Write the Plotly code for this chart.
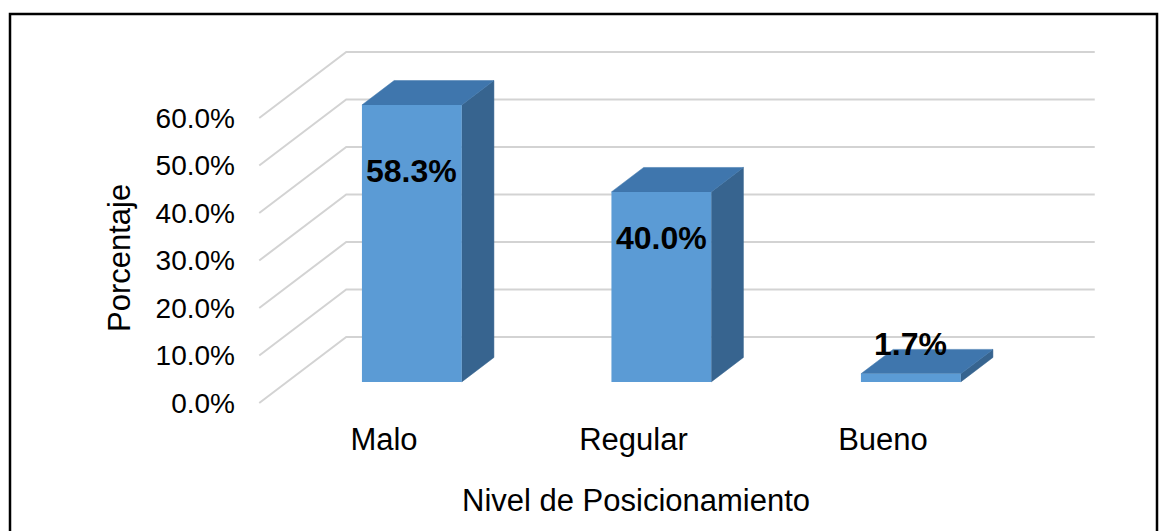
import plotly.graph_objects as go

# Data
categorias = ["Malo", "Regular", "Bueno"]
porcentajes = [58.3, 40.0, 1.7]
ticks_y = [0, 10, 20, 30, 40, 50, 60]
etiquetas_y = ["0.0%", "10.0%", "20.0%", "30.0%", "40.0%", "50.0%", "60.0%"]
etiquetas_barras = ["58.3%", "40.0%", "1.7%"]

# Page / plot-area geometry (pixels)
W, H = 1168, 531
L, R, T, B = 254, 1108, 40, 416
X0_PX, PX_PER_CAT = 384.0, 249.5      # first category on the front plane
Y0_PX, PX_PER_PCT = 403.0, 4.75       # 0 % on the front plane

x_range = [(L - X0_PX) / PX_PER_CAT, (R - X0_PX) / PX_PER_CAT]
y_range = [(Y0_PX - B) / PX_PER_PCT, (Y0_PX - T) / PX_PER_PCT]
pw, ph = R - L, B - T


def px_to_paper_x(px):
    return (px - L) / pw


def px_to_paper_y(py):
    return (B - py) / ph


# Oblique depth vector (data units) and bar placement in depth
DX = 87.0 / PX_PER_CAT
DY = 66.0 / PX_PER_PCT
T0, T1 = 0.32, 0.69
HALF = 0.2
FLOOR_L, FLOOR_R = -0.5, len(categorias) - 0.5

FONT = "Arial, 'Liberation Sans', sans-serif"
GRID = "#d3d3d3"
FRONT = "#5b9bd5"
TOP = "#3f76ad"
SIDE = "#37648f"

fig = go.Figure()

# Side wall (slanted) and back wall (horizontal) gridlines
gx, gy = [], []
for v in ticks_y:
    gx += [FLOOR_L, FLOOR_L + DX, FLOOR_R + DX, None]
    gy += [v, v + DY, v + DY, None]
fig.add_trace(go.Scatter(x=gx, y=gy, mode="lines",
                         line=dict(color=GRID, width=2),
                         hoverinfo="skip", zorder=0))

# Top and side faces of each column
for i, v in enumerate(porcentajes):
    xl, xr = i - HALF, i + HALF
    fig.add_trace(go.Scatter(
        x=[xr + T0 * DX, xr + T1 * DX, xr + T1 * DX, xr + T0 * DX, xr + T0 * DX],
        y=[T0 * DY, T1 * DY, v + T1 * DY, v + T0 * DY, T0 * DY],
        mode="lines", fill="toself", fillcolor=SIDE,
        line=dict(color=SIDE, width=0.5), hoverinfo="skip", zorder=1))
    fig.add_trace(go.Scatter(
        x=[xl + T0 * DX, xr + T0 * DX, xr + T1 * DX, xl + T1 * DX, xl + T0 * DX],
        y=[v + T0 * DY, v + T0 * DY, v + T1 * DY, v + T1 * DY, v + T0 * DY],
        mode="lines", fill="toself", fillcolor=TOP,
        line=dict(color=TOP, width=0.5), hoverinfo="skip", zorder=1))

# Front faces
fig.add_trace(go.Bar(
    x=[i + T0 * DX for i in range(len(categorias))],
    y=porcentajes, base=T0 * DY, width=2 * HALF,
    marker=dict(color=FRONT, line=dict(width=0)),
    hoverinfo="skip", zorder=2))

# Value labels, anchored on the top edge of each front face
desplazamientos = [-66, -46, 30]
for i, (v, txt) in enumerate(zip(porcentajes, etiquetas_barras)):
    fig.add_annotation(x=i + T0 * DX, y=v + T0 * DY, text="<b>%s</b>" % txt,
                       showarrow=False, yshift=desplazamientos[i],
                       xanchor="center", yanchor="middle",
                       font=dict(family=FONT, size=32, color="black"))

# Axis titles
fig.add_annotation(xref="paper", yref="paper",
                   x=px_to_paper_x(636), y=px_to_paper_y(501),
                   text="Nivel de Posicionamiento", showarrow=False,
                   xanchor="center", yanchor="middle",
                   font=dict(family=FONT, size=31, color="black"))
fig.add_annotation(xref="paper", yref="paper",
                   x=px_to_paper_x(119), y=px_to_paper_y(258),
                   text="Porcentaje", textangle=-90, showarrow=False,
                   xanchor="center", yanchor="middle",
                   font=dict(family=FONT, size=31, color="black"))

# Outer frame
fig.add_shape(type="rect", xref="paper", yref="paper",
              x0=px_to_paper_x(10), x1=px_to_paper_x(1157),
              y0=px_to_paper_y(545), y1=px_to_paper_y(14),
              line=dict(color="black", width=2.5), layer="above")

fig.update_layout(
    width=W, height=H,
    margin=dict(l=L, r=W - R, t=T, b=H - B),
    paper_bgcolor="white", plot_bgcolor="white",
    showlegend=False, barmode="overlay",
    font=dict(family=FONT, color="black"),
    xaxis=dict(range=x_range, tickvals=list(range(len(categorias))),
               ticktext=categorias, showgrid=False, zeroline=False,
               showline=False, ticks="", ticklabelstandoff=2,
               tickfont=dict(size=31, family=FONT, color="black")),
    yaxis=dict(range=y_range, tickvals=ticks_y, ticktext=etiquetas_y,
               showgrid=False, zeroline=False, showline=False, ticks="",
               ticklabelstandoff=18,
               tickfont=dict(size=28, family=FONT, color="black")),
)

fig.write_html("out.html")
